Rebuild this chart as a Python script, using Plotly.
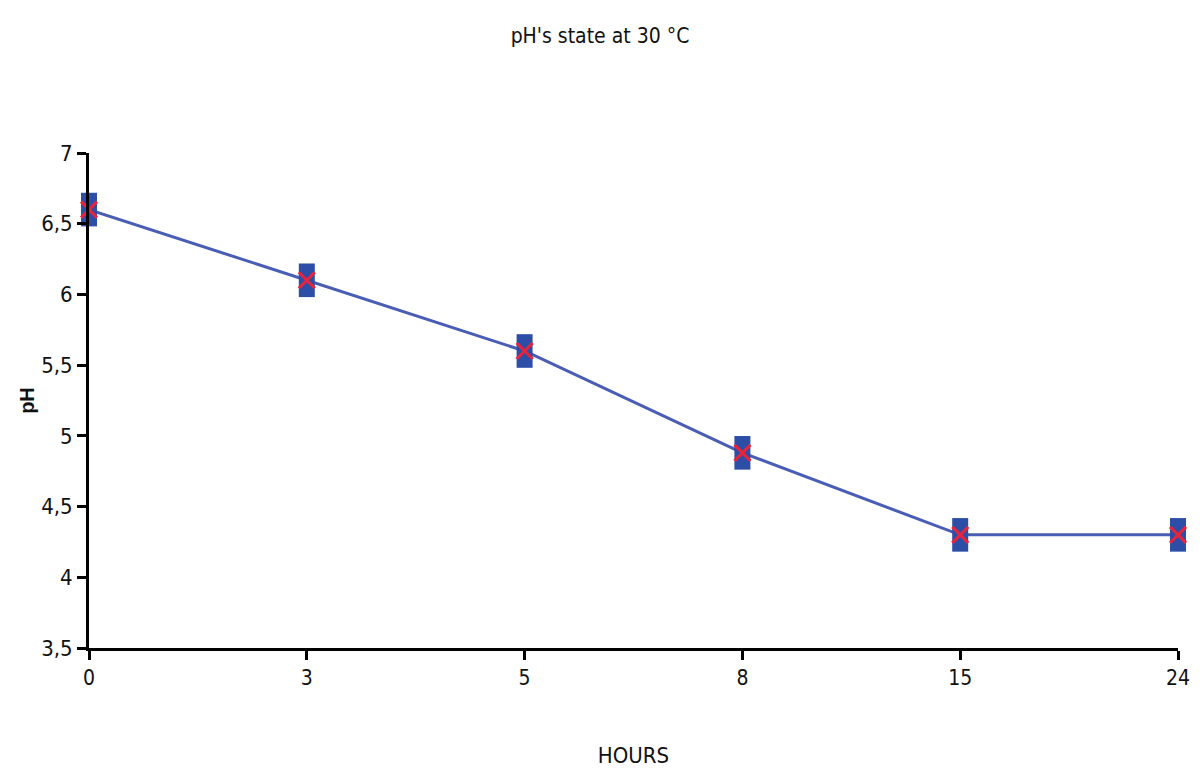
import plotly.graph_objects as go

hours = ["0", "3", "5", "8", "15", "24"]
ph = [6.6, 6.1, 5.6, 4.88, 4.3, 4.3]

FONT = "DejaVu Sans Condensed, Liberation Sans Narrow, Liberation Sans, Arial, sans-serif"

fig = go.Figure()
fig.add_trace(go.Scatter(
    x=hours, y=ph, mode="lines",
    line=dict(color="#4a5db4", width=3),
    hoverinfo="skip", showlegend=False, cliponaxis=False,
))
# rectangular blue markers
fig.add_trace(go.Scatter(
    x=hours, y=ph, mode="markers", cliponaxis=False,
    marker=dict(symbol="line-ns", size=24, color="#2c4ea6",
                line=dict(color="#2c4ea6", width=16)),
    showlegend=False,
))
# red crosses
fig.add_trace(go.Scatter(
    x=hours, y=ph, mode="markers", cliponaxis=False,
    marker=dict(symbol="x-thin", size=16,
                line=dict(color="#e8243c", width=3)),
    showlegend=False,
))

fig.update_layout(
    width=1184, height=760,
    margin=dict(l=81, r=14, t=145, b=120),
    paper_bgcolor="white", plot_bgcolor="white",
    separators=",.",
    font=dict(family=FONT, color="#111111", size=21),
    title=dict(text="pH's state at 30 °C", x=0.5, xref="container",
               y=0.964, yref="container", yanchor="middle",
               font=dict(family=FONT, size=21, color="#111111")),
)
fig.update_xaxes(
    type="category", range=[0, 5], automargin=False,
    showline=True, linecolor="black", linewidth=3,
    ticks="outside", ticklen=9, tickwidth=3, tickcolor="black",
    showgrid=False, zeroline=False,
    tickfont=dict(family=FONT, size=21),
    title=dict(text="HOURS", font=dict(family=FONT, size=22), standoff=66),
)
fig.update_yaxes(
    range=[3.5, 7], dtick=0.5, tick0=3.5, automargin=False,
    showline=True, linecolor="black", linewidth=3,
    ticks="outside", ticklen=9, tickwidth=3, tickcolor="black",
    showgrid=False, zeroline=False,
    tickfont=dict(family=FONT, size=22),
    title=dict(text="<b>pH</b>", font=dict(family="Liberation Sans, Arial, sans-serif", size=20), standoff=2),
)

fig.write_html("out.html")
